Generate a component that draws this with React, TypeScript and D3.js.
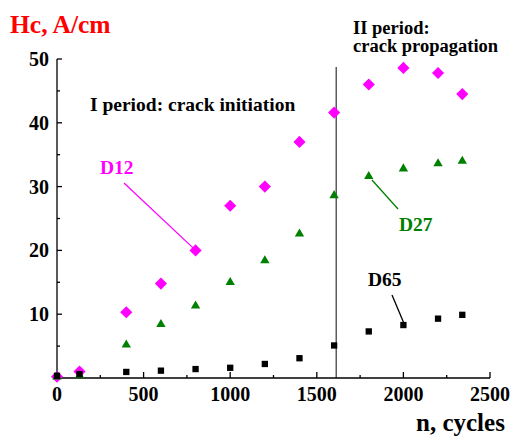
import React from "react";
import * as d3 from "d3";

const cycles = [0, 130, 400, 600, 800, 1000, 1200, 1400, 1600, 1800, 2000, 2200, 2340];
const d12 = [0.2, 1.0, 10.3, 14.8, 20, 27, 30, 37, 41.6, 46, 48.6, 47.8, 44.5];
const d27 = [0.2, 0.4, 5.2, 8.4, 11.3, 15.0, 18.4, 22.6, 28.6, 31.6, 32.8, 33.6, 34.0];
const d65 = [0.35, 0.6, 0.95, 1.15, 1.4, 1.6, 2.2, 3.1, 5.1, 7.3, 8.3, 9.3, 9.9];
const xTicks = [0, 500, 1000, 1500, 2000, 2500];
const xMinor = [250, 750, 1250, 1750, 2250];
const yTicks = [10, 20, 30, 40, 50];
const yMinor = [5, 15, 25, 35, 45];
const periodBoundary = 1612;

const W = 513;
const H = 437;
const FONT = "'Liberation Serif', 'Times New Roman', serif";

export default function App() {
  const x = d3.scaleLinear().domain([0, 2500]).range([57, 490]);
  const y = d3.scaleLinear().domain([0, 50]).range([378, 59]);

  const diamond = d3.symbol().type(d3.symbolSquare).size(74)()!;
  const triangle = d3.symbol().type(d3.symbolTriangle).size(38)()!;
  const square = d3.symbol().type(d3.symbolSquare).size(40)()!;

  const x0 = x(0);
  const y0 = y(0);

  return (
    <svg
      width={W}
      height={H}
      style={{ position: "absolute", left: 0, top: 0, background: "#fff" }}
      fontFamily={FONT}
      fontWeight="bold"
    >
      {/* vertical period boundary */}
      <line
        x1={x(periodBoundary)}
        x2={x(periodBoundary)}
        y1={67}
        y2={y0}
        stroke="#333"
        strokeWidth={1.2}
      />

      {/* axes */}
      <line x1={x0} x2={x(2500)} y1={y0} y2={y0} stroke="#000" strokeWidth={1.3} />
      <line x1={x0} x2={x0} y1={y(50)} y2={y0} stroke="#000" strokeWidth={1.3} />

      {xTicks.map((t) => (
        <g key={"xt" + t}>
          <line x1={x(t)} x2={x(t)} y1={y0} y2={y0 - 6} stroke="#000" strokeWidth={1.3} />
          <text x={x(t)} y={401} textAnchor="middle" fontSize={20}>
            {t}
          </text>
        </g>
      ))}
      {xMinor.map((t) => (
        <line key={"xm" + t} x1={x(t)} x2={x(t)} y1={y0} y2={y0 - 3} stroke="#000" strokeWidth={1.3} />
      ))}
      {yTicks.map((t) => (
        <g key={"yt" + t}>
          <line x1={x0} x2={x0 + 5} y1={y(t)} y2={y(t)} stroke="#000" strokeWidth={1.3} />
          <text x={49} y={y(t) + 7} textAnchor="end" fontSize={20}>
            {t}
          </text>
        </g>
      ))}
      {yMinor.map((t) => (
        <line key={"ym" + t} x1={x0} x2={x0 + 3} y1={y(t)} y2={y(t)} stroke="#000" strokeWidth={1.3} />
      ))}

      {/* series */}
      {cycles.map((c, i) => (
        <path
          key={"d12" + i}
          d={diamond}
          transform={`translate(${x(c)},${y(d12[i])}) rotate(45)`}
          fill="#ff00ff"
        />
      ))}
      {cycles.map((c, i) => (
        <path
          key={"d27" + i}
          d={triangle}
          transform={`translate(${x(c)},${y(d27[i])})`}
          fill="#008000"
        />
      ))}
      {cycles.map((c, i) => (
        <path
          key={"d65" + i}
          d={square}
          transform={`translate(${x(c)},${y(d65[i])})`}
          fill="#000"
        />
      ))}

      {/* series labels with leaders */}
      <line x1={124} y1={183} x2={x(800) - 2} y2={y(20) - 2} stroke="#ff00ff" strokeWidth={1.3} />
      <text x={100} y={174} fontSize={19.5} fill="#ff00ff">
        D12
      </text>

      <line x1={372} y1={180} x2={398} y2={209} stroke="#008000" strokeWidth={1.3} />
      <text x={399} y={231} fontSize={19.5} fill="#008000">
        D27
      </text>

      <line x1={392} y1={295} x2={x(2000)} y2={y(8.3) - 3} stroke="#000" strokeWidth={1.3} />
      <text x={368} y={286} fontSize={19.5} fill="#000">
        D65
      </text>

      {/* annotations */}
      <text x={90} y={111} fontSize={19.5}>
        I period: crack initiation
      </text>
      <text x={353} y={33.5} fontSize={18.5}>
        II period:
      </text>
      <text x={353} y={52} fontSize={18.5}>
        crack propagation
      </text>

      {/* axis titles */}
      <text x={10} y={33} fontSize={25.5} fill="#ff0000">
        Hc, A/cm
      </text>
      <text x={416} y={431} fontSize={25}>
        n, cycles
      </text>
    </svg>
  );
}
